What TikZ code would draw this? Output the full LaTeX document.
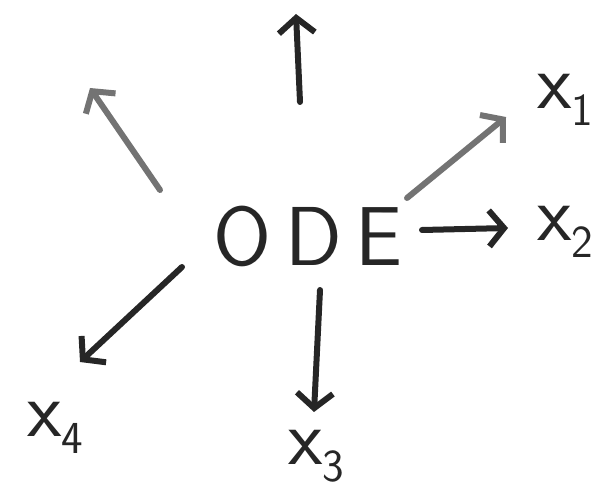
\documentclass[tikz,border=0pt]{standalone}
\usetikzlibrary{arrows.meta}
\newcommand{\xsub}[1]{x\raisebox{-0.22em}{\fontsize{46}{46}\selectfont #1}}
\begin{document}
\begin{tikzpicture}[x=1bp,y=-1bp,
  pen/.style={line width=6bp,line cap=round,draw=black!85,
    -{Straight Barb[length=15bp,width=36bp,line width=6bp]}},
  graypen/.style={pen,draw=black!55},
  lbl/.style={inner sep=0pt,font=\sffamily\fontsize{80}{80}\selectfont,text=black!85},
  big/.style={inner sep=0pt,font=\sffamily\fontsize{84}{84}\selectfont,text=black!85}]
\useasboundingbox (0,0) rectangle (607,498);
\node[big] (ode) at (308,236) {O\,D\,E};
\node[lbl] (x1) at (565,100) {\xsub{1}};
\node[lbl] (x2) at (565,232) {\xsub{2}};
\node[lbl] (x3) at (316,456) {\xsub{3}};
\node[lbl] (x4) at (55,428) {\xsub{4}};
\coordinate (s1) at (407,198); \coordinate (e1) at (506,117);
\coordinate (s2) at (422,230); \coordinate (e2) at (508,228);
\coordinate (s3) at (320,290); \coordinate (e3) at (314,412);
\coordinate (s4) at (182,267); \coordinate (e4) at (80,362);
\coordinate (s5) at (300,102); \coordinate (e5) at (296,14);
\coordinate (s6) at (160,190); \coordinate (e6) at (90,88);
\draw[graypen] (s1) -- (e1);
\draw[pen] (s2) -- (e2);
\draw[pen] (s3) -- (e3);
\draw[pen] (s4) -- (e4);
\draw[pen] (s5) -- (e5);
\draw[graypen] (s6) -- (e6);
\end{tikzpicture}
\end{document}
